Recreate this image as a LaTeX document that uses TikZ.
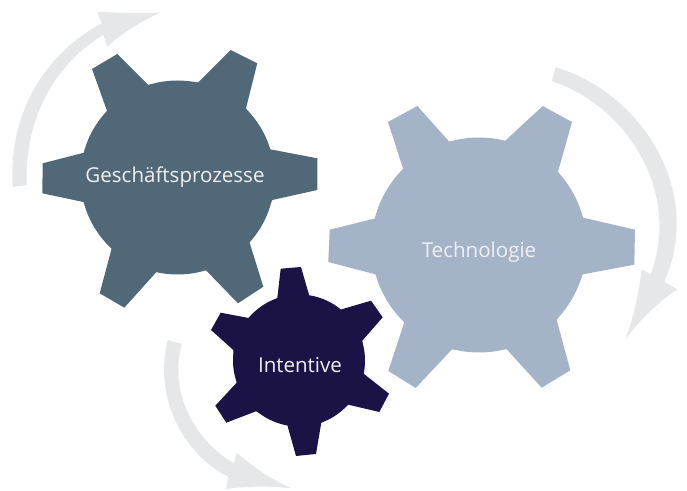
\documentclass[tikz,border=0pt]{standalone}
\usepackage{fontspec}
\setmainfont{Open Sans}
\usetikzlibrary{positioning}
\definecolor{prozesscolor}{HTML}{516879}
\definecolor{techcolor}{HTML}{A4B3C8}
\definecolor{intentcolor}{HTML}{1B1346}
\definecolor{arrowcolor}{HTML}{E6E7E9}
\begin{document}
\begin{tikzpicture}[x=0.75pt, y=-0.75pt,
    rotarrow/.style={fill=arrowcolor},
    gearlabel/.style={text=white!94!black, inner sep=0pt, anchor=base, font=\fontsize{15.4}{18}\selectfont}]
  \useasboundingbox (0,0) rectangle (687,491);
  % arrows
  \fill[rotarrow] (12.7,186.7) .. controls (8,110) and (48,52) .. (101.7,23.3) -- (97.3,11.7)
    .. controls (118,13) and (140,13) .. (160,12.7) .. controls (140,22) and (122,33) .. (107.3,46.7)
    -- (103.3,35) .. controls (58,62) and (24,115) .. (26.7,185.3) -- cycle;
  \fill[rotarrow] (555.7,67.3) .. controls (640,92) and (705,190) .. (664.3,281.7) -- (677.3,289.3)
    .. controls (658,302) and (640,320) .. (625.7,338.7) .. controls (634,316) and (639,292) .. (641.7,269.3)
    -- (650.7,274.3) .. controls (682,190) and (625,105) .. (551.7,81) -- cycle;
  \fill[rotarrow] (167.7,340) .. controls (153,400) and (185,455) .. (228.3,476.7) -- (226,489)
    .. controls (248,486) and (270,486) .. (291.7,488.3) .. controls (272,480) and (253,467) .. (236.7,452.7)
    -- (234,463.3) .. controls (197,442) and (168,395) .. (181.7,344) -- cycle;
  % gears
  \fill[prozesscolor] (177.5,177.5) circle (97);
  \fill[prozesscolor] (148.3,85) -- (117.3,54) -- (92,69) -- (107.3,111.7) -- (84,152.7) -- (42.7,163.3)
    -- (42.3,193.3) -- (84.7,202.3) -- (111.7,248.3) -- (99.7,293.3) -- (124.3,307.7) -- (156.7,271.7)
    -- (205.7,270) -- (238,303.3) -- (263.3,286.7) -- (249.3,241.7) -- (272.3,200) -- (317.3,190)
    -- (317.3,158.3) -- (270,149.3) -- (246,108.3) -- (257.3,63.3) -- (230.7,50) -- (198.3,82.3) -- cycle;
  \fill[techcolor] (479,245) circle (107.5);
  \fill[techcolor] (449.3,141.7) -- (417.3,106) -- (388,122) -- (403.3,169.3) -- (375.7,218.3) -- (329.7,229.7)
    -- (328.3,262) -- (376.7,274.7) -- (404.3,322.3) -- (388.3,371) -- (415.7,388) -- (452,349.3)
    -- (506.7,349.3) -- (541.7,387.7) -- (570.3,370.3) -- (556.7,320) -- (583,274.3) -- (634.3,264.7)
    -- (635,229.7) -- (583.3,217.7) -- (558,171.7) -- (572,122) -- (542.7,106) -- (505,141) -- cycle;
  \fill[intentcolor] (299,360.5) circle (66);
  \fill[intentcolor] (277.3,298) -- (280.7,268.7) -- (301,267) -- (309.3,295.7) -- (340.3,309.7) -- (371,300.7)
    -- (382.7,317.3) -- (362.3,340.7) -- (364,374) -- (389,393.7) -- (379.3,412) -- (348.3,404.7)
    -- (321.3,422.7) -- (316,454) -- (296,456) -- (287.3,425) -- (256,411.3) -- (226.3,422.7)
    -- (215.3,405.7) -- (236.7,382.7) -- (233.3,350) -- (211,330) -- (220.7,312.7) -- (248.7,318) -- cycle;
  % labels
  \node[gearlabel] (prozesse) at (175,183) {Geschäftsprozesse};
  \node[gearlabel] (technologie) at (479,258) {Technologie};
  \node[gearlabel] (intentive) at (300,373) {Intentive};
\end{tikzpicture}
\end{document}
